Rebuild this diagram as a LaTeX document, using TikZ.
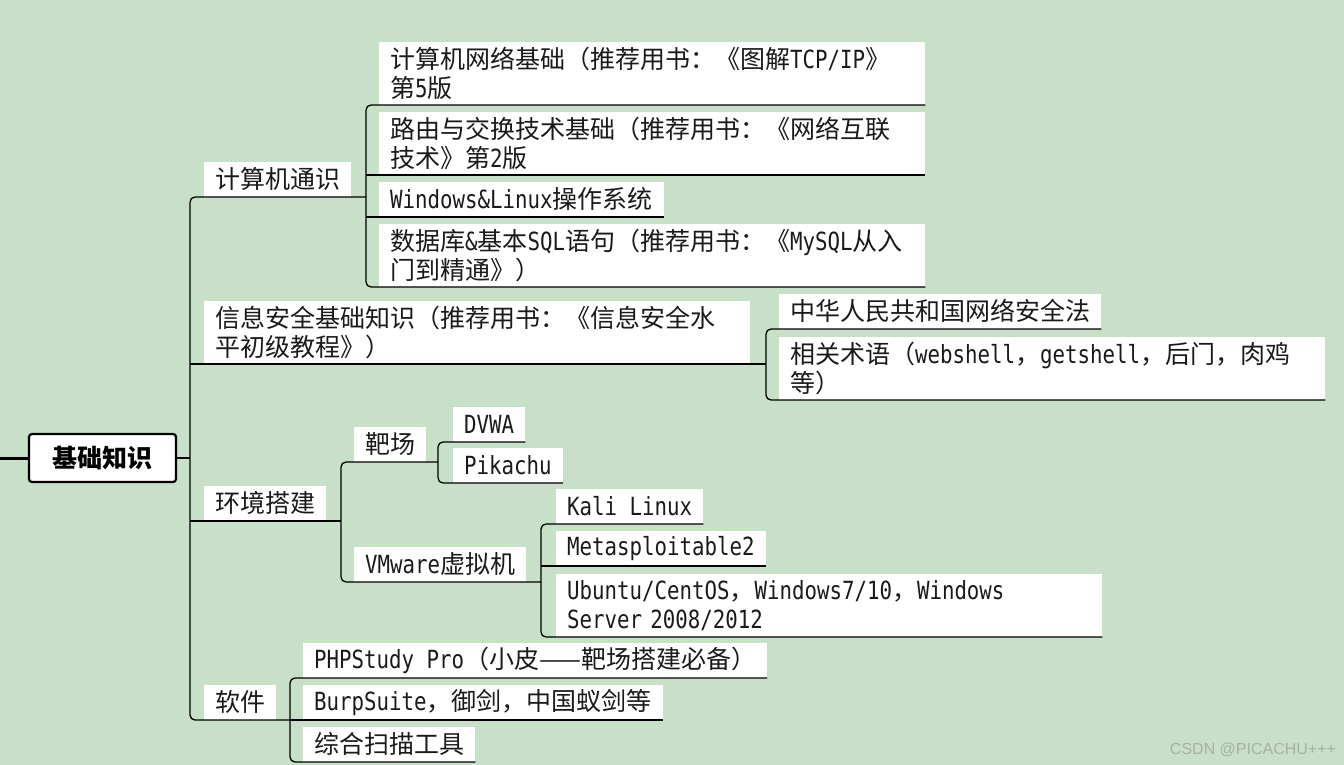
\documentclass[tikz,border=0pt]{standalone}
\usepackage{fontspec}
\setmainfont{Noto Sans CJK SC}
\newfontfamily\halffont{DejaVu Sans Mono}[FakeStretch=0.83]
\newfontfamily\markfont{Liberation Sans}
\newcommand{\hw}[1]{{\halffont #1}}
\usetikzlibrary{calc}
\definecolor{paper}{RGB}{199,224,199}
\definecolor{ink}{RGB}{26,26,26}
\definecolor{markgray}{RGB}{168,176,168}

\begin{document}
\begin{tikzpicture}[
  x=1pt, y=-1pt,
  font=\fontsize{25}{29}\selectfont,
  leaf/.style={fill=white, anchor=south west, align=left, text=ink,
    inner xsep=11pt, inner ysep=4pt, minimum height=35pt},
  wrap/.style={leaf, text width=524pt, minimum height=63pt},
  root/.style={draw, line width=2.2pt, rounded corners=3pt, fill=white,
    minimum width=147pt, minimum height=48pt,
    font=\fontsize{25}{29}\selectfont\bfseries},
  link/.style={draw, line width=1.3pt, rounded corners=5pt},
  stem/.style={line width=3pt}
]
\fill[paper] (0,0) rectangle (1344,765);
\useasboundingbox (0,0) rectangle (1344,765);

% root and trunks
\node[root] (root) at (102.5,458) {基础知识};
\coordinate (entry) at (0,458);
\coordinate (t0) at (190,458);
\coordinate (t1) at (366,197);
\coordinate (t2) at (766,364);
\coordinate (t3) at (341,521);
\coordinate (t31) at (438,462);
\coordinate (t32) at (541,582);
\coordinate (t4) at (290,720);

% 计算机通识
\node[leaf] (n1) at (204,197) {计算机通识};
\node[wrap] (n11) at (379,105) {计算机网络基础（推荐用书：《图解\hw{TCP/IP}》\\第\hw{5}版};
\node[wrap] (n12) at (379,175) {路由与交换技术基础（推荐用书：《网络互联\\技术》第\hw{2}版};
\node[leaf] (n13) at (379,217) {\hw{Windows\&Linux}操作系统};
\node[wrap] (n14) at (379,287) {数据库\hw{\&}基本\hw{SQL}语句（推荐用书：《\hw{MySQL}从入\\门到精通》）};

% 信息安全基础知识
\node[wrap] (n2) at (204,364) {信息安全基础知识（推荐用书：《信息安全水\\平初级教程》）};
\node[leaf] (n21) at (779,329) {中华人民共和国网络安全法};
\node[wrap] (n22) at (779,400) {相关术语（\hw{webshell}，\hw{getshell}，后门，肉鸡\\等）};

% 环境搭建
\node[leaf] (n3) at (204,521) {环境搭建};
\node[leaf] (n31) at (354,462) {靶场};
\node[leaf] (n311) at (453,442) {\hw{DVWA}};
\node[leaf] (n312) at (453,483) {\hw{Pikachu}};
\node[leaf] (n32) at (354,582) {\hw{VMware}虚拟机};
\node[leaf] (n321) at (556,524) {\hw{Kali Linux}};
\node[leaf] (n322) at (556,566) {\hw{Metasploitable2}};
\node[wrap] (n323) at (556,637) {\hw{Ubuntu/CentOS}，\hw{Windows7/10}，\hw{Windows}\\\hw{Server 2008/2012}};

% 软件
\node[leaf] (n4) at (204,720) {软件};
\node[leaf] (n41) at (303,678) {\hw{PHPStudy Pro}（小皮——靶场搭建必备）};
\node[leaf] (n42) at (303,720) {\hw{BurpSuite}，御剑，中国蚁剑等};
\node[leaf] (n43) at (303,762) {综合扫描工具};

% connectors
\draw[stem] (entry) -- (root.west);
\draw[link] (root.east) -- (t0 |- root.east);
\draw[link] (t1 |- n1.south) -- (t0 |- n1.south) -- (t0 |- n4.south) -- (t4 |- n4.south);
\draw[link] (t0 |- n2.south) -- (t2 |- n2.south);
\draw[link] (t0 |- n3.south) -- (t3 |- n3.south);

\draw[link] (n11.south east) -- (t1 |- n11.south) -- (t1 |- n14.south) -- (n14.south east);
\draw[link] (t1 |- n12.south) -- (n12.south east);
\draw[link] (t1 |- n13.south) -- (n13.south east);

\draw[link] (n21.south east) -- (t2 |- n21.south) -- (t2 |- n22.south) -- (n22.south east);

\draw[link] (t31 |- n31.south) -- (t3 |- n31.south) -- (t3 |- n32.south) -- (t32 |- n32.south);
\draw[link] (n311.south east) -- (t31 |- n311.south) -- (t31 |- n312.south) -- (n312.south east);
\draw[link] (n321.south east) -- (t32 |- n321.south) -- (t32 |- n323.south) -- (n323.south east);
\draw[link] (t32 |- n322.south) -- (n322.south east);

\draw[link] (n41.south east) -- (t4 |- n41.south) -- (t4 |- n43.south) -- (n43.south east);
\draw[link] (t4 |- n42.south) -- (n42.south east);

% watermark
\node[font=\fontsize{16}{16}\selectfont\markfont, text=markgray] (mark) at (1253,750) {CSDN @PICACHU+++};
\end{tikzpicture}
\end{document}
